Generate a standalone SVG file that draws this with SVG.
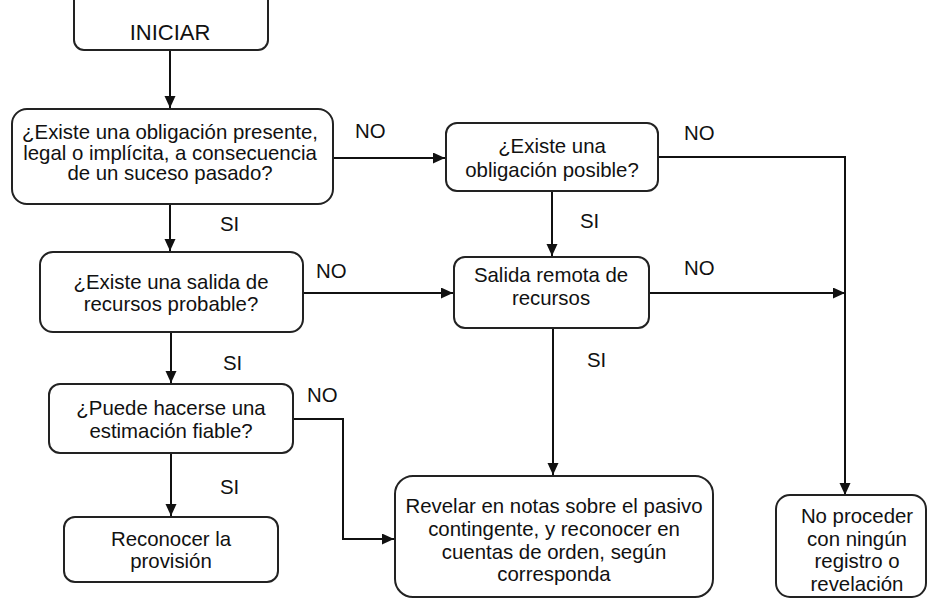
<svg xmlns="http://www.w3.org/2000/svg" width="929" height="599" viewBox="0 0 929 599">
<defs>
<marker id="arr" markerUnits="userSpaceOnUse" markerWidth="13" markerHeight="12" refX="12" refY="5.5" orient="auto">
<path d="M0,0 L12,5.5 L0,11 z" fill="#111"/>
</marker>
<style>
.box{fill:#fff;stroke:#222;stroke-width:2}
.t{font-family:"Liberation Sans",Arial,sans-serif;font-size:20.4px;fill:#111;text-anchor:middle}
.lbl{font-family:"Liberation Sans",Arial,sans-serif;font-size:20.4px;fill:#111}
.c{fill:none;stroke:#111;stroke-width:2;marker-end:url(#arr)}
</style>
</defs>
<rect width="929" height="599" fill="#fff"/>
<g id="connectors">
<path class="c" d="M170,50 L170,108"/>
<path class="c" d="M333,158 L445,158"/>
<path class="c" d="M658,157 L845,157 L845,495"/>
<path class="c" d="M170,204 L170,251"/>
<path class="c" d="M552,191 L552,256"/>
<path class="c" d="M303,293 L453,293"/>
<path class="c" d="M649,293 L845,293"/>
<path class="c" d="M171,332 L171,383"/>
<path class="c" d="M553,328 L553,475"/>
<path class="c" d="M293,419 L343,419 L343,539 L394,539"/>
<path class="c" d="M171,453 L171,516"/>
<text class="lbl" x="355" y="138">NO</text>
<text class="lbl" x="684" y="140">NO</text>
<text class="lbl" x="220" y="231">SI</text>
<text class="lbl" x="580" y="228">SI</text>
<text class="lbl" x="316" y="278">NO</text>
<text class="lbl" x="684" y="275">NO</text>
<text class="lbl" x="223" y="370">SI</text>
<text class="lbl" x="587" y="367">SI</text>
<text class="lbl" x="307" y="402">NO</text>
<text class="lbl" x="220" y="494">SI</text>
</g>
<g id="iniciar">
<rect class="box" x="74" y="-20" width="194" height="70" rx="10"/>
<text class="t" x="170" y="40" style="font-size:22px">INICIAR</text>
</g>
<g id="obligacion-presente">
<rect class="box" x="12" y="109" width="321" height="95" rx="15"/>
<text class="t" x="170" y="139">¿Existe una obligación presente,</text>
<text class="t" x="170" y="160">legal o implícita, a consecuencia</text>
<text class="t" x="170" y="180">de un suceso pasado?</text>
</g>
<g id="obligacion-posible">
<rect class="box" x="446" y="123" width="212" height="68" rx="11"/>
<text class="t" x="552" y="153">¿Existe una</text>
<text class="t" x="552" y="177">obligación posible?</text>
</g>
<g id="salida-probable">
<rect class="box" x="40" y="252" width="263" height="80" rx="13"/>
<text class="t" x="171" y="289">¿Existe una salida de</text>
<text class="t" x="171" y="311">recursos probable?</text>
</g>
<g id="salida-remota">
<rect class="box" x="454" y="257" width="195" height="71" rx="11"/>
<text class="t" x="551" y="282">Salida remota de</text>
<text class="t" x="551" y="305">recursos</text>
</g>
<g id="estimacion-fiable">
<rect class="box" x="49" y="384" width="244" height="69" rx="11"/>
<text class="t" x="171" y="415">¿Puede hacerse una</text>
<text class="t" x="171" y="438">estimación fiable?</text>
</g>
<g id="reconocer-provision">
<rect class="box" x="64" y="517" width="214" height="65" rx="11"/>
<text class="t" x="171" y="546">Reconocer la</text>
<text class="t" x="171" y="568">provisión</text>
</g>
<g id="revelar-notas">
<rect class="box" x="395" y="476" width="318" height="121" rx="18"/>
<text class="t" x="554" y="513">Revelar en notas sobre el pasivo</text>
<text class="t" x="554" y="536">contingente, y reconocer en</text>
<text class="t" x="554" y="559">cuentas de orden, según</text>
<text class="t" x="554" y="581">corresponda</text>
</g>
<g id="no-proceder">
<rect class="box" x="776" y="495" width="150" height="102" rx="14"/>
<text class="t" x="857" y="523">No proceder</text>
<text class="t" x="857" y="546">con ningún</text>
<text class="t" x="857" y="568">registro o</text>
<text class="t" x="857" y="591">revelación</text>
</g>
</svg>
